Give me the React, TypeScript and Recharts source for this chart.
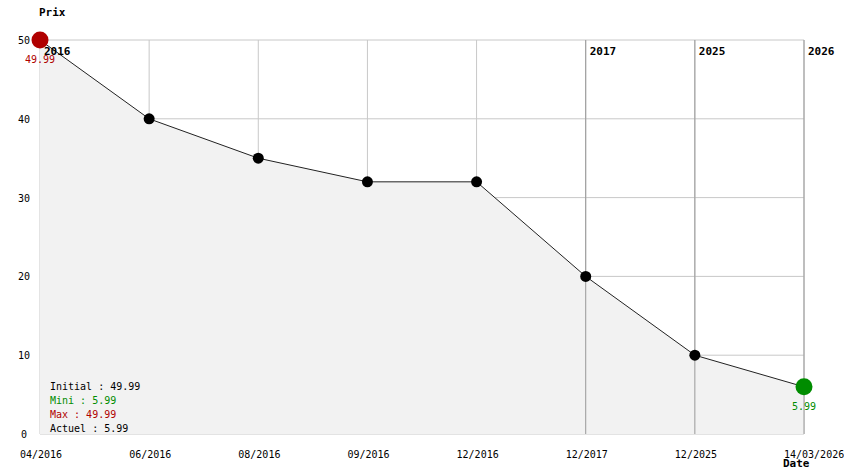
import React from "react";
import {
  AreaChart,
  Area,
  XAxis,
  YAxis,
  CartesianGrid,
  ReferenceLine,
} from "recharts";

// Historique du prix
const dates = [
  "04/2016",
  "06/2016",
  "08/2016",
  "09/2016",
  "12/2016",
  "12/2017",
  "12/2025",
  "14/03/2026",
];
const prices = [49.99, 40, 35, 32, 32, 20, 10, 5.99];

// Changements d'année
const yearDates = ["04/2016", "12/2017", "12/2025", "14/03/2026"];
const yearLabels = ["2016", "2017", "2025", "2026"];

const yTicks = [0, 10, 20, 30, 40, 50];

const legendLabels = ["Initial", "Mini", "Max", "Actuel"];
const legendValues = [
  prices[0],
  Math.min(...prices),
  Math.max(...prices),
  prices[prices.length - 1],
];
const legendColors = ["#000000", "#008c00", "#b00000", "#000000"];

const RED = "#b00000";
const GREEN = "#008c00";
const FONT = "'DejaVu Sans Mono', monospace";

const data = dates.map((d, i) => ({ date: d, prix: prices[i] }));

const PriceDot = (props: any) => {
  const { cx, cy, index, value } = props;
  const last = data.length - 1;
  if (index === 0 || index === last) {
    const color = index === 0 ? RED : GREEN;
    const v = Array.isArray(value) ? value[1] : value;
    return (
      <g key={`dot-${index}`}>
        <circle cx={cx} cy={cy} r={8.5} fill={color} />
        <text
          x={cx}
          y={cy + 23}
          textAnchor="middle"
          fill={color}
          fontSize={10}
          fontFamily={FONT}
        >
          {v}
        </text>
      </g>
    );
  }
  return <circle key={`dot-${index}`} cx={cx} cy={cy} r={5.5} fill="#000" />;
};

const XTick = (props: any) => {
  const { x, y, payload } = props;
  return (
    <text x={x - 20} y={y + 22} textAnchor="start" fontSize={10} fontFamily={FONT} fill="#000">
      {payload.value}
    </text>
  );
};

const YTick = (props: any) => {
  const { y, payload } = props;
  return (
    <text x={24} y={y + 4} textAnchor="middle" fontSize={10} fontFamily={FONT} fill="#000">
      {payload.value}
    </text>
  );
};

const YearLabel = (text: string) => (props: any) => {
  const { viewBox } = props;
  return (
    <text
      x={viewBox.x + 4}
      y={viewBox.y + 15}
      fontSize={11}
      fontWeight="bold"
      fontFamily={FONT}
      fill="#000"
    >
      {text}
    </text>
  );
};

// titres + récapitulatif, posés par-dessus le graphique
const Overlay = () => (
  <svg
    width={844}
    height={474}
    style={{ position: "absolute", left: 0, top: 0, pointerEvents: "none" }}
    fontFamily={FONT}
  >
    <text x={39} y={16} fontSize={11} fontWeight="bold" fill="#000">
      Prix
    </text>
    <text x={783} y={467} fontSize={11} fontWeight="bold" fill="#000">
      Date
    </text>
    {legendLabels.map((l, i) => (
      <text key={l} x={50} y={390 + i * 14} fontSize={10} fill={legendColors[i]}>
        {`${l} : ${legendValues[i]}`}
      </text>
    ))}
  </svg>
);

export default function App() {
  return (
    <div style={{ position: "absolute", left: 0, top: 0, width: 844, height: 474, background: "#fff" }}>
      <AreaChart
        width={844}
        height={474}
        data={data}
        margin={{ top: 40, right: 40, left: 0, bottom: 0 }}
      >
        <CartesianGrid stroke="#c8c8c8" strokeWidth={1} />
        <XAxis
          dataKey="date"
          height={40}
          axisLine={false}
          tickLine={false}
          tickSize={0}
          tick={<XTick />}
          interval={0}
        />
        <YAxis
          width={40}
          domain={[0, 50]}
          ticks={yTicks}
          axisLine={false}
          tickLine={false}
          tick={<YTick />}
        />
        {yearDates.map((d, i) => (
          <ReferenceLine
            key={d}
            x={d}
            stroke={i === 0 ? "none" : "#999"}
            strokeWidth={1}
            label={YearLabel(yearLabels[i])}
          />
        ))}
        <Area
          type="linear"
          dataKey="prix"
          stroke="#222"
          strokeWidth={1}
          fill="#f2f2f2"
          fillOpacity={1}
          dot={<PriceDot />}
          activeDot={false}
          isAnimationActive={false}
        />
      </AreaChart>
      <Overlay />
    </div>
  );
}
